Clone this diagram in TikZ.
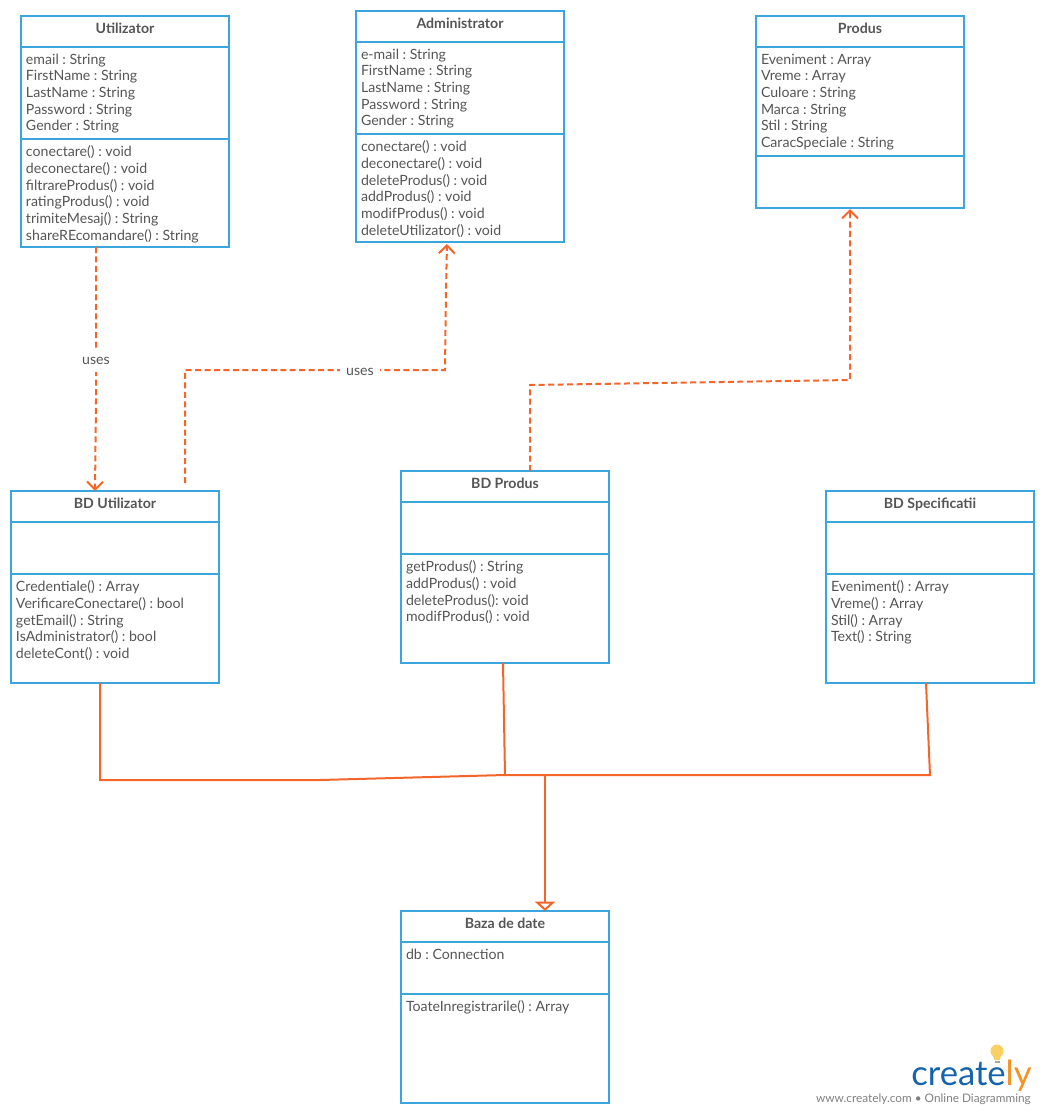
\documentclass[tikz,border=0pt]{standalone}
\usepackage{fontspec}
\setmainfont{Lato}
\frenchspacing
\usetikzlibrary{arrows.meta,calc}
\definecolor{umlblue}{RGB}{58,166,221}
\definecolor{wire}{RGB}{244,101,42}
\definecolor{ink}{RGB}{85,85,85}
\definecolor{logoblue}{RGB}{22,100,172}
\definecolor{logoorange}{RGB}{245,146,38}
\definecolor{bulb}{RGB}{248,208,100}
\tikzset{
  sect/.style={draw=umlblue,line width=1.5pt,fill=white,minimum width=156pt,inner sep=0pt,outer sep=0pt,anchor=north west},
  head/.style={sect,minimum height=23.25pt,text=ink,text height=9pt,text depth=6pt,
    font=\fontsize{10.6}{12}\selectfont\bfseries},
  members/.style={anchor=north west,align=left,text=ink,inner xsep=3.75pt,inner ysep=5.1pt,outer sep=0pt,
    font=\fontsize{10.6}{12.5}\selectfont},
  uses/.style={wire,line width=1.5pt,dash pattern=on 4.5pt off 2.6pt},
  vtip/.style={-{Straight Barb[length=6pt,width=12pt,line width=1.5pt]}},
  joint/.style={wire,line width=1.5pt},
  tag/.style={fill=white,text=ink,inner xsep=4.5pt,inner ysep=3.5pt,text height=7pt,text depth=2pt,
    font=\fontsize{10.6}{12}\selectfont},
}
\begin{document}
\begin{tikzpicture}[x=0.75pt,y=-0.75pt]
  \useasboundingbox (0,0) rectangle (1045,1115);
  % Utilizator
  \node[head] (utilHead) at (21,16) {Utilizator};
  \node[sect,minimum height=69pt] (utilAttr) at (utilHead.south west) {};
  \node[sect,minimum height=81pt] (utilOps) at (utilAttr.south west) {};
  \node[members] (utilAttrText) at (utilAttr.north west) {email : String\\FirstName : String\\LastName : String\\Password : String\\Gender : String};
  \node[members] (utilOpsText) at (utilOps.north west) {conectare() : void\\deconectare() : void\\filtrareProdus() : void\\ratingProdus() : void\\trimiteMesaj() : String\\shareREcomandare() : String};
  % Administrator
  \node[head] (adminHead) at (356,11) {Administrator};
  \node[sect,minimum height=69pt] (adminAttr) at (adminHead.south west) {};
  \node[sect,minimum height=81pt] (adminOps) at (adminAttr.south west) {};
  \node[members] (adminAttrText) at (adminAttr.north west) {e-mail : String\\FirstName : String\\LastName : String\\Password : String\\Gender : String};
  \node[members] (adminOpsText) at (adminOps.north west) {conectare() : void\\deconectare() : void\\deleteProdus() : void\\addProdus() : void\\modifProdus() : void\\deleteUtilizator() : void};
  % Produs
  \node[head] (prodHead) at (756,16) {Produs};
  \node[sect,minimum height=81.75pt] (prodAttr) at (prodHead.south west) {};
  \node[sect,minimum height=39pt] (prodOps) at (prodAttr.south west) {};
  \node[members] (prodAttrText) at (prodAttr.north west) {Eveniment : Array\\Vreme : Array\\Culoare : String\\Marca : String\\Stil : String\\CaracSpeciale : String};
  % BD Utilizator
  \node[head] (bduHead) at (11,491) {BD Utilizator};
  \node[sect,minimum height=39pt] (bduAttr) at (bduHead.south west) {};
  \node[sect,minimum height=81.75pt] (bduOps) at (bduAttr.south west) {};
  \node[members] (bduOpsText) at (bduOps.north west) {Credentiale() : Array\\VerificareConectare() : bool\\getEmail() : String\\IsAdministrator() : bool\\deleteCont() : void};
  % BD Produs
  \node[head] (bdpHead) at (401,471) {BD Produs};
  \node[sect,minimum height=39pt] (bdpAttr) at (bdpHead.south west) {};
  \node[sect,minimum height=81.75pt] (bdpOps) at (bdpAttr.south west) {};
  \node[members] (bdpOpsText) at (bdpOps.north west) {getProdus() : String\\addProdus() : void\\deleteProdus(): void\\modifProdus() : void};
  % BD Specificatii
  \node[head] (bdsHead) at (826,491) {BD Specificatii};
  \node[sect,minimum height=39pt] (bdsAttr) at (bdsHead.south west) {};
  \node[sect,minimum height=81.75pt] (bdsOps) at (bdsAttr.south west) {};
  \node[members] (bdsOpsText) at (bdsOps.north west) {Eveniment() : Array\\Vreme() : Array\\Stil() : Array\\Text() : String};
  % Baza de date
  \node[head] (dbHead) at (401,911) {Baza de date};
  \node[sect,minimum height=39pt] (dbAttr) at (dbHead.south west) {};
  \node[sect,minimum height=81.75pt] (dbOps) at (dbAttr.south west) {};
  \node[members] (dbAttrText) at (dbAttr.north west) {db : Connection};
  \node[members] (dbOpsText) at (dbOps.north west) {ToateInregistrarile() : Array};
  % dashed links
  \coordinate (bduFree) at (185,483);
  \draw[uses,vtip] ($(utilOps.south west)+(75,0)$) -- (96,400) -- ($(bduHead.north west)+(84,0)$);
  \node[tag] (usesLeft) at (96,361.5) {uses};
  \draw[uses,vtip] (bduFree) -- (185,370) -- (445,370) -- (446,290) -- ($(adminOps.south west)+(91,2)$);
  \node[tag] (usesRight) at (360,372) {uses};
  \draw[uses,vtip] ($(bdpHead.north west)+(129,0)$) -- (530,385) -- (850,380) -- ($(prodOps.south west)+(94,1)$);
  % solid links
  \coordinate (busLeft) at (505,775);
  \coordinate (busMid) at (545,775);
  \draw[joint] ($(bduOps.south west)+(89,0)$) -- (100,780) -- (320,780) -- (busLeft);
  \draw[joint] ($(bdpOps.south west)+(102,0)$) -- (busLeft) -- (busMid);
  \draw[joint] ($(bdsOps.south west)+(100,0)$) -- (930,775) -- (busMid);
  \draw[joint,-{Triangle[open,length=7pt,width=15pt,line width=1.5pt,fill=white]}] (busMid) -- ($(dbHead.north west)+(144,0)$);
  % logo
  \fill[bulb] (997,1051) circle (6.5) (992.5,1055) -- (1001.5,1055) -- (999.5,1060) -- (994.5,1060) -- cycle;
  \fill[gray!70] (994.5,1060.5) rectangle (999.5,1063);
  \node[anchor=base east,inner sep=0pt,font=\fontsize{26}{26}\selectfont] (logoWord) at (1032,1085)
    {\textcolor{logoblue}{create}\textcolor{logoorange}{ly}};
  \node[anchor=base east,inner sep=0pt,text=gray,font=\fontsize{8.85}{11}\selectfont] (logoLine) at (1031,1102)
    {www.creately.com • Online Diagramming};
\end{tikzpicture}
\end{document}
